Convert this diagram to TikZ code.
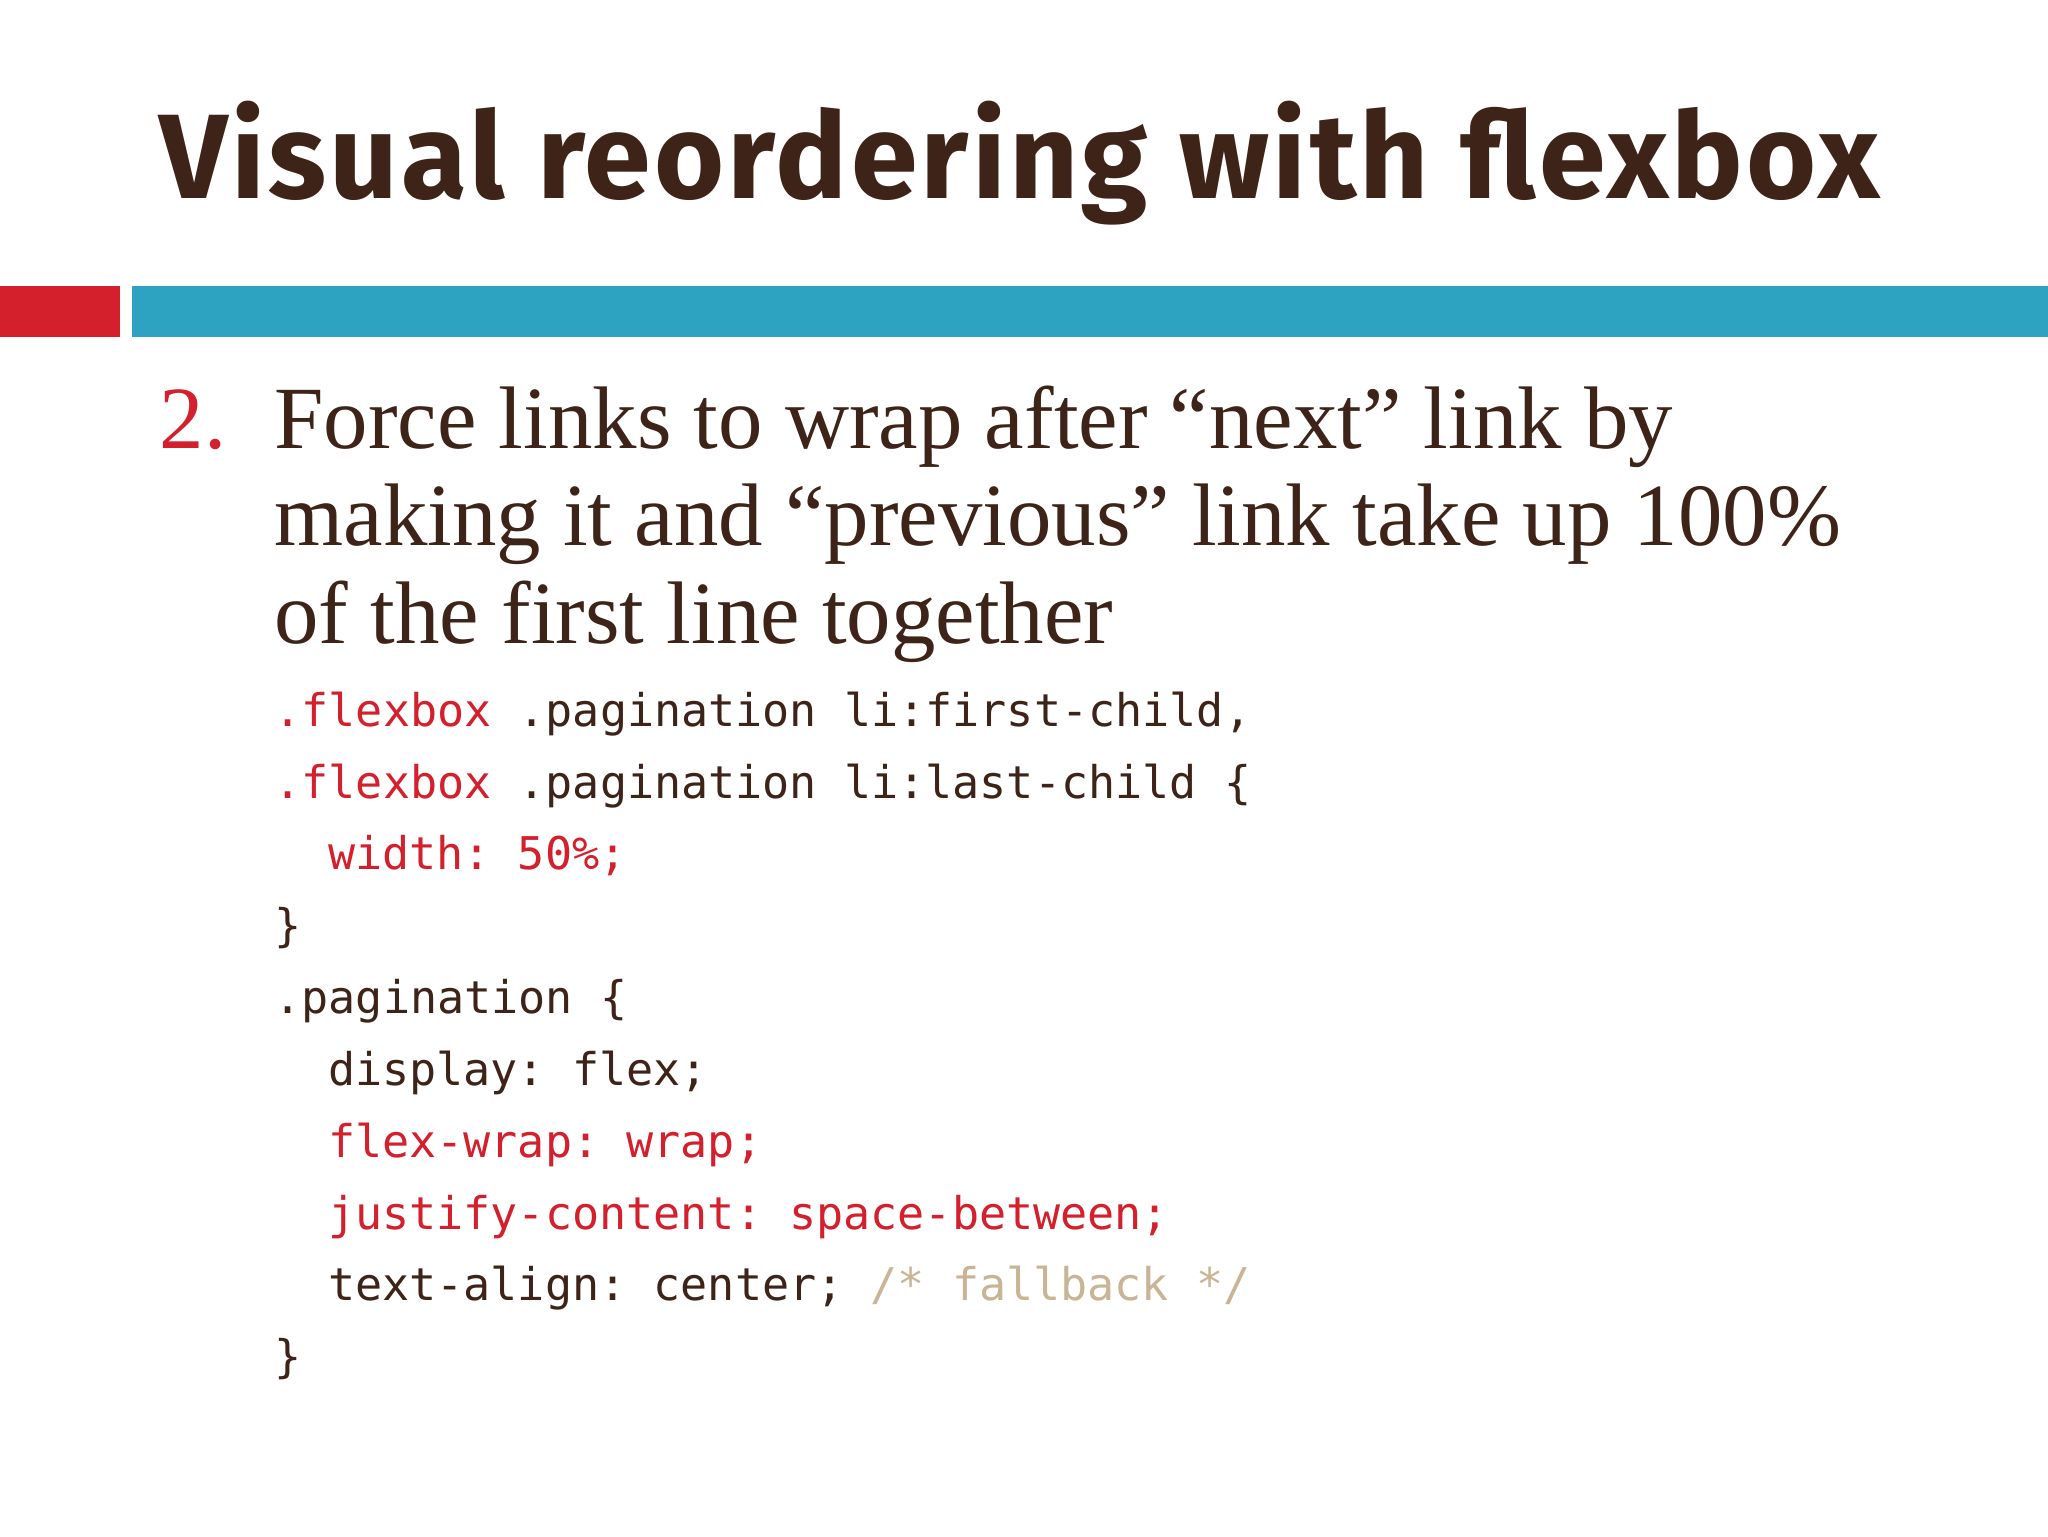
\documentclass[tikz,border=0pt]{standalone}
\usepackage{fontspec}
\setmainfont{Liberation Serif}
\setsansfont{Fira Sans}
\setmonofont{DejaVu Sans Mono}
\newfontfamily\titlefont[LetterSpace=2.7]{Fira Sans}
\definecolor{brown}{HTML}{3E2418}
\definecolor{rd}{HTML}{D41F2C}
\definecolor{bl}{HTML}{2EA3C1}
\definecolor{cm}{HTML}{C9B596}
\begin{document}
\begin{tikzpicture}[x=1pt,y=-1pt,
  code/.style={anchor=base west,inner sep=0pt,text=brown,font=\ttfamily\fontsize{34.5}{40}\selectfont},
  body/.style={anchor=base west,inner sep=0pt,text=brown,font=\rmfamily\fontsize{68}{75}\selectfont}]
\useasboundingbox (0,0) rectangle (1568,1176);
\fill[white] (0,0) rectangle (1568,1176);
\node[anchor=base west,inner sep=0pt,text=brown,font=\titlefont\bfseries\fontsize{92}{100}\selectfont] (title) at (122,152) {Visual reordering with flexbox};
\fill[rd] (0,219) rectangle (92,258);
\fill[bl] (101,219) rectangle (1568,258);
\node[body,text=rd] (num) at (122,343) {2.};
\node[body] (l1) at (210,343) {Force links to wrap after “next” link by};
\node[body] (l2) at (210,418) {making it and “previous” link take up 100\%};
\node[body] (l3) at (210,493) {of the first line together};
\node[code] (c1) at (210,556) {\textcolor{rd}{.flexbox} .pagination li:first-child,};
\node[code] (c2) at (210,611) {\textcolor{rd}{.flexbox} .pagination li:last-child \{};
\node[code,text=rd] (c3) at (251,666) {width: 50\%;};
\node[code] (c4) at (210,721) {\}};
\node[code] (c5) at (210,776) {.pagination \{};
\node[code] (c6) at (251,831) {display: flex;};
\node[code,text=rd] (c7) at (251,886) {flex-wrap: wrap;};
\node[code,text=rd] (c8) at (251,941) {justify-content: space-between;};
\node[code] (c9) at (251,996) {text-align: center; \textcolor{cm}{/* fallback */}};
\node[code] (c10) at (210,1051) {\}};
\end{tikzpicture}
\end{document}
